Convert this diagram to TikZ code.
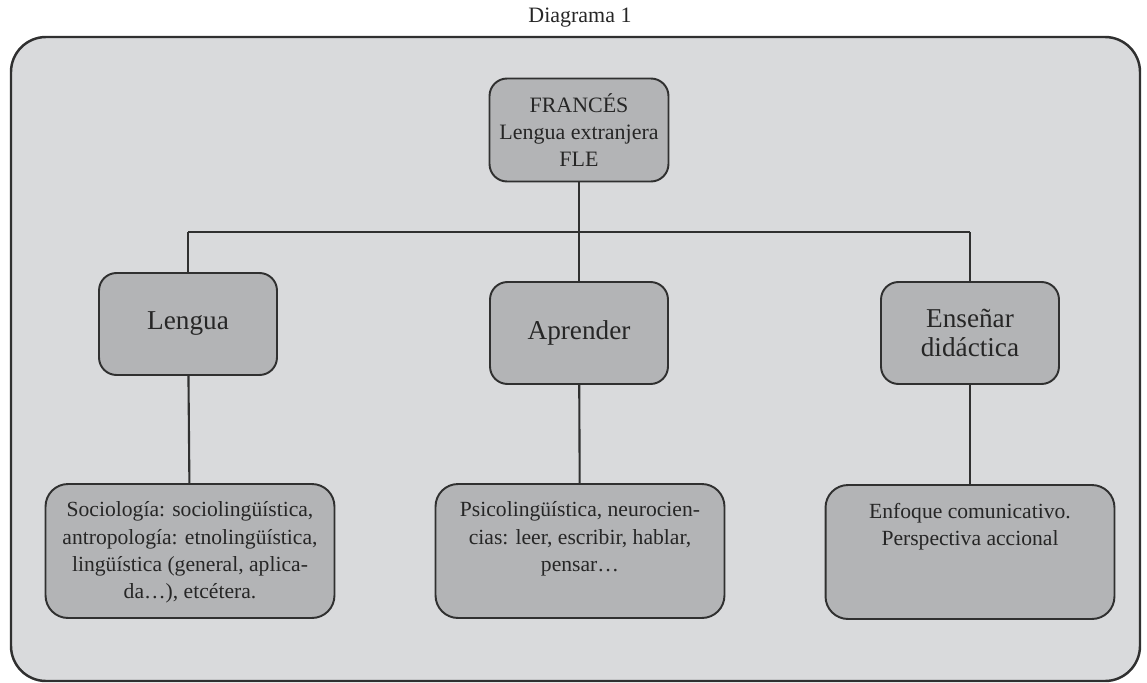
\documentclass[tikz,border=0pt]{standalone}
\usepackage{fontspec}
\setmainfont{Liberation Serif}
\usepackage{tikz}
\usetikzlibrary{calc,positioning}
\usepackage{xcolor}

\definecolor{fondo}{RGB}{217,218,220}
\definecolor{caja}{RGB}{179,180,182}
\definecolor{trazo}{RGB}{48,48,48}
\definecolor{letra}{RGB}{38,38,38}

\begin{document}
\begin{tikzpicture}[x=0.02cm, y=-0.02cm,
    linea/.style={draw=trazo, line width=1.2pt},
    raiz/.style={draw=trazo, line width=1.1pt, fill=caja, rounded corners=0.35cm,
        minimum width=3.58cm, minimum height=2.06cm, align=center, text=letra,
        font=\fontsize{12.5}{15.5}\selectfont, inner sep=2pt},
    rama/.style={draw=trazo, line width=1.1pt, fill=caja, rounded corners=0.35cm,
        minimum width=3.56cm, minimum height=2.04cm, align=center, text=letra,
        font=\fontsize{15.5}{16}\selectfont},
    hoja/.style={draw=trazo, line width=1.1pt, fill=caja, rounded corners=0.45cm,
        minimum width=5.78cm, minimum height=2.68cm, text=letra, inner sep=0pt,
        font=\fontsize{12.3}{15.5}\selectfont}]

    \useasboundingbox (0,0) rectangle (1147,683);

    % title and outer frame
    \node[text=letra, font=\fontsize{12.5}{14}\selectfont] (titulo) at (580,18) {Diagrama 1};
    \draw[draw=trazo, line width=1.4pt, fill=fondo, rounded corners=0.7cm] (11,37) rectangle (1140,681);

    % top node and the three branches
    \node[raiz] (frances) at (579,130) {FRANCÉS\\Lengua extranjera\\FLE};
    \node[rama] (lengua) at (188,324) {Lengua};
    \node[rama] (aprender) at (579,333) {Aprender};
    \node[rama] (ensenar) at (970,333) {Enseñar\\didáctica};

    % bottom boxes, text sits at the top
    \node[hoja] (socio) at (190,551) {\parbox[c][2.6cm][t]{5.6cm}{\centering\vspace{9pt}%
        Sociología: sociolingüística,\\antropología: etnolingüística,\\lingüística (general, aplica-\\da…), etcétera.}};
    \node[hoja] (psico) at (580,551) {\parbox[c][2.6cm][t]{5.6cm}{\centering\vspace{9pt}%
        Psicolingüística, neurocien-\\cias: leer, escribir, hablar,\\pensar…}};
    \node[hoja] (enfoque) at (970,552) {\parbox[c][2.6cm][t]{5.6cm}{\centering\vspace{9pt}%
        Enfoque comunicativo.\\Perspectiva accional}};

    % connectors
    \coordinate (busL) at (188,232);
    \coordinate (busR) at (970,232);
    \draw[linea] (busL) -- (busR);
    \draw[linea] (frances) -- (frances |- busL);
    \draw[linea] (busL) -- (lengua);
    \draw[linea] (aprender |- busL) -- (aprender);
    \draw[linea] (busR) -- (ensenar);
    \draw[linea] (lengua) -- (socio);
    \draw[linea] (aprender) -- (psico);
    \draw[linea] (ensenar) -- (enfoque);

\end{tikzpicture}
\end{document}
